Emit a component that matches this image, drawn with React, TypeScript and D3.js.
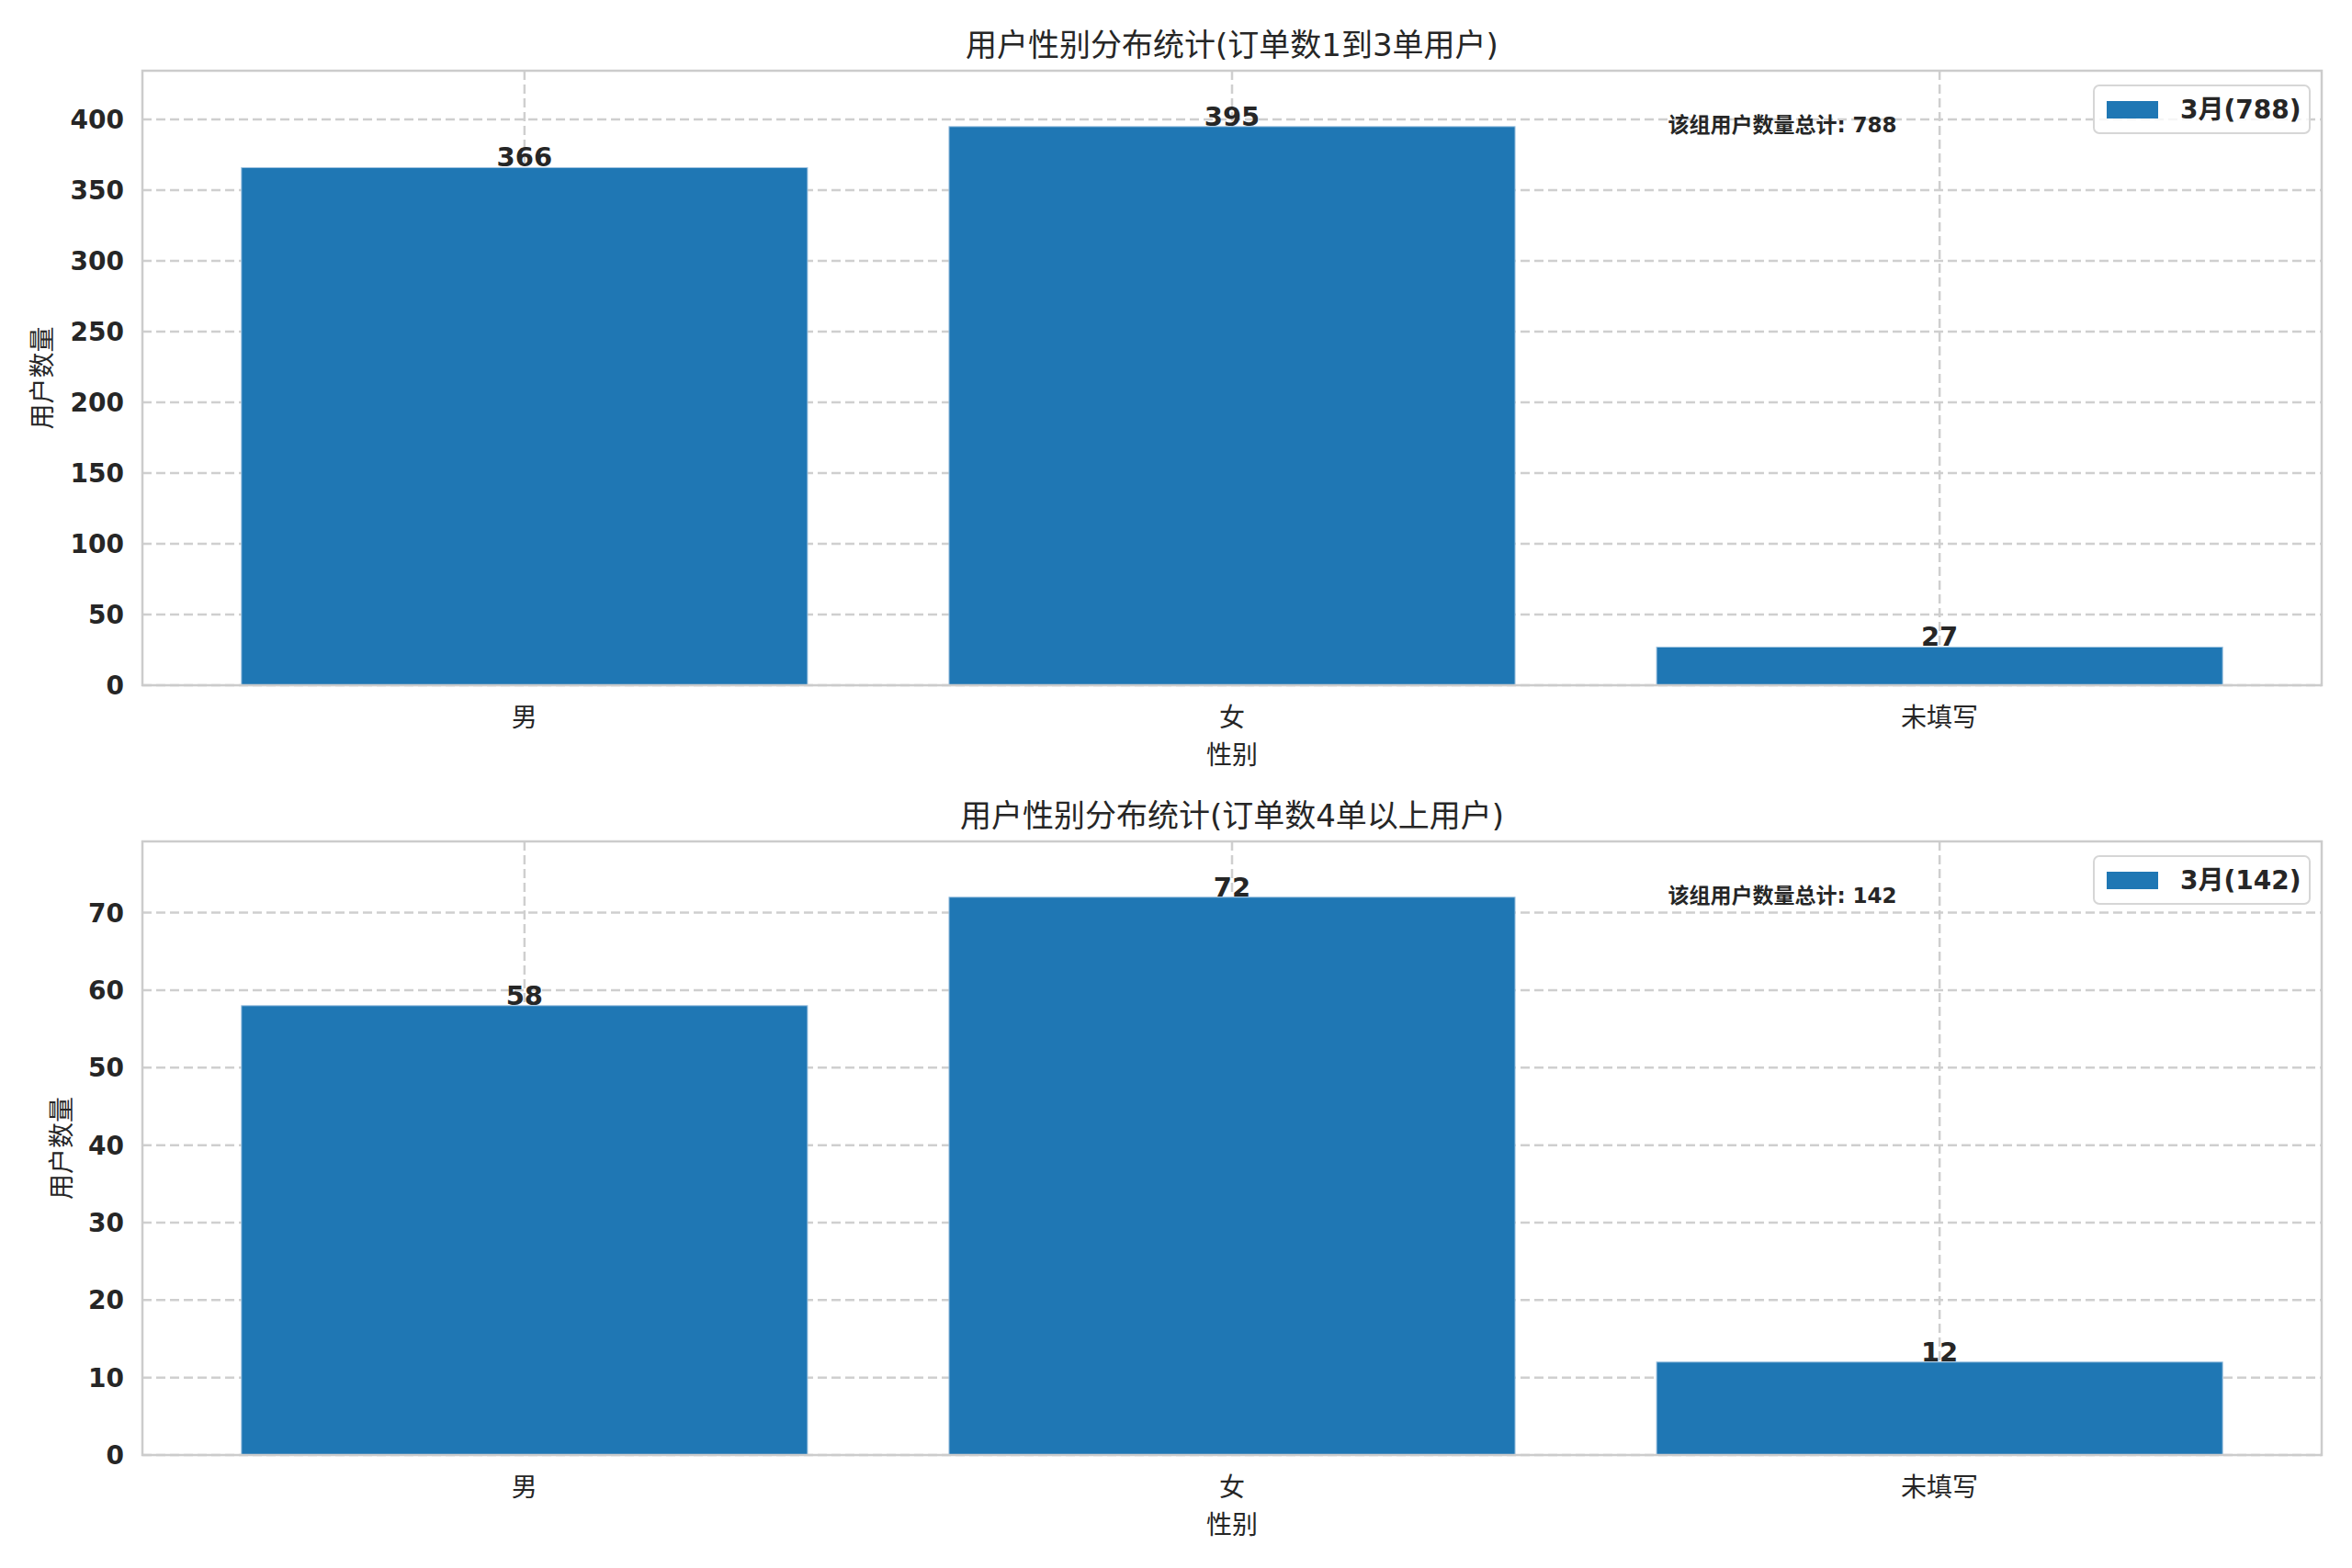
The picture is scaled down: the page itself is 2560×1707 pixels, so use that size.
import React, { useEffect, useRef } from "react";
import * as d3 from "d3";

// gender split per customer group; text glyphs in the source render as boxes,
// so the wording below is a best guess at the original Chinese
const categories = ["男", "女", "未填写"];
const groupA = [366, 395, 27];
const groupB = [58, 72, 12];
const titles = ["用户性别分布统计(订单数1到3单用户)", "用户性别分布统计(订单数4单以上用户)"];
const ticksA = [0, 50, 100, 150, 200, 250, 300, 350, 400];
const ticksB = [0, 10, 20, 30, 40, 50, 60, 70];
const seriesName = "3月";
const xLabel = "性别";
const yLabel = "用户数量";
const totalLabel = "该组用户数量总计";

const W = 2560;
const H = 1707;
const FONT = "'DejaVu Sans', 'Noto Sans CJK SC', sans-serif";
const BLUE = "#1f77b4";
const INK = "#262626";
const GRID = "#cfcfcf";

type Panel = { values: number[]; ticks: number[]; title: string; top: number; bottom: number; ylabX: number };

const panels: Panel[] = [
  { values: groupA, ticks: ticksA, title: titles[0], top: 77, bottom: 746, ylabX: 46 },
  { values: groupB, ticks: ticksB, title: titles[1], top: 916, bottom: 1584, ylabX: 67 },
];

const App = () => {
  const svgRef = useRef<SVGSVGElement>(null);

  useEffect(() => {
    document.body.style.margin = "0";
    if (!svgRef.current) return;
    const svg = d3.select(svgRef.current);
    svg.selectAll("*").remove();
    svg.append("rect").attr("width", W).attr("height", H).attr("fill", "white");

    const left = 155;
    const right = 2527;
    const x = d3.scaleLinear().domain([-0.54, categories.length - 1 + 0.54]).range([left, right]);

    panels.forEach((p) => {
      const maxV = d3.max(p.values) as number;
      const y = d3.scaleLinear().domain([0, maxV * 1.1]).range([p.bottom, p.top]);
      const g = svg.append("g").style("font-family", FONT);

      // grid
      g.selectAll(".hg")
        .data(p.ticks)
        .enter()
        .append("line")
        .attr("x1", left)
        .attr("x2", right)
        .attr("y1", (d) => y(d))
        .attr("y2", (d) => y(d))
        .attr("stroke", GRID)
        .attr("stroke-width", 2.5)
        .attr("stroke-dasharray", "10,5");
      g.selectAll(".vg")
        .data(categories)
        .enter()
        .append("line")
        .attr("x1", (_, i) => x(i))
        .attr("x2", (_, i) => x(i))
        .attr("y1", p.top)
        .attr("y2", p.bottom)
        .attr("stroke", GRID)
        .attr("stroke-width", 2.5)
        .attr("stroke-dasharray", "10,5");

      // bars
      g.selectAll(".bar")
        .data(p.values)
        .enter()
        .append("rect")
        .attr("x", (_, i) => x(i - 0.4))
        .attr("width", x(0.4) - x(-0.4))
        .attr("y", (d) => y(d))
        .attr("height", (d) => p.bottom - y(d))
        .attr("fill", BLUE)
        .attr("stroke", "#9fc3e0")
        .attr("stroke-width", 1);

      // value labels
      g.selectAll(".val")
        .data(p.values)
        .enter()
        .append("text")
        .attr("x", (_, i) => x(i))
        .attr("y", (d) => y(d) - 1)
        .attr("text-anchor", "middle")
        .attr("font-size", 29)
        .attr("font-weight", "bold")
        .attr("fill", INK)
        .text((d) => d);

      // frame
      g.append("rect")
        .attr("x", left)
        .attr("y", p.top)
        .attr("width", right - left)
        .attr("height", p.bottom - p.top)
        .attr("fill", "none")
        .attr("stroke", "#cccccc")
        .attr("stroke-width", 2.5);

      // y ticks
      g.selectAll(".yt")
        .data(p.ticks)
        .enter()
        .append("text")
        .attr("x", left - 20)
        .attr("y", (d) => y(d))
        .attr("dy", "0.36em")
        .attr("text-anchor", "end")
        .attr("font-size", 28)
        .attr("font-weight", "bold")
        .attr("fill", INK)
        .text((d) => d);

      // x ticks
      g.selectAll(".xt")
        .data(categories)
        .enter()
        .append("text")
        .attr("x", (_, i) => x(i))
        .attr("y", p.bottom + 45)
        .attr("text-anchor", "middle")
        .attr("font-size", 28)
        .attr("fill", INK)
        .text((d) => d);

      g.append("text")
        .attr("x", (left + right) / 2)
        .attr("y", p.bottom + 86)
        .attr("text-anchor", "middle")
        .attr("font-size", 28)
        .attr("fill", INK)
        .text(xLabel);

      g.append("text")
        .attr("transform", `translate(${p.ylabX},${(p.top + p.bottom) / 2}) rotate(-90)`)
        .attr("text-anchor", "middle")
        .attr("dy", "0.35em")
        .attr("font-size", 28)
        .attr("fill", INK)
        .text(yLabel);

      // title
      g.append("text")
        .attr("x", (left + right) / 2)
        .attr("y", p.top - 16)
        .attr("text-anchor", "middle")
        .attr("font-size", 34)
        .attr("fill", INK)
        .text(p.title);

      const total = d3.sum(p.values);

      // total annotation
      g.append("text")
        .attr("x", left + 0.7 * (right - left))
        .attr("y", p.bottom - 0.912 * (p.bottom - p.top))
        .attr("dy", "0.36em")
        .attr("font-size", 23)
        .attr("font-weight", "bold")
        .attr("fill", INK)
        .text(`${totalLabel}: ${total}`);

      // legend
      const lx = 2279;
      const ly = p.top + 16;
      g.append("rect")
        .attr("x", lx)
        .attr("y", ly)
        .attr("width", 235)
        .attr("height", 52)
        .attr("rx", 6)
        .attr("fill", "white")
        .attr("fill-opacity", 0.8)
        .attr("stroke", "#d6d6d6")
        .attr("stroke-width", 2);
      g.append("rect")
        .attr("x", lx + 14)
        .attr("y", ly + 17)
        .attr("width", 56)
        .attr("height", 19)
        .attr("fill", BLUE);
      g.append("text")
        .attr("x", lx + 94)
        .attr("y", ly + 26)
        .attr("dy", "0.36em")
        .attr("font-size", 28)
        .attr("font-weight", "bold")
        .attr("fill", INK)
        .text(`${seriesName}(${total})`);
    });
  }, []);

  return <svg ref={svgRef} width={W} height={H} style={{ display: "block" }} />;
};

export default App;
